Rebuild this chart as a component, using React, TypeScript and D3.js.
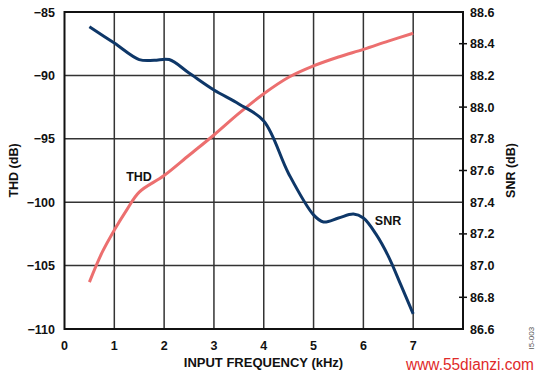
import React from "react";
import * as d3 from "d3";

const freqTicks = [0, 1, 2, 3, 4, 5, 6, 7, 8];
const thdTicks = [-85, -90, -95, -100, -105, -110];
const snrTicks = [88.6, 88.4, 88.2, 88.0, 87.8, 87.6, 87.4, 87.2, 87.0, 86.8, 86.6];

const thdFreq = [0.5, 0.75, 1, 1.25, 1.5, 2, 2.5, 3, 3.5, 4, 4.5, 5, 5.5, 6, 6.5, 7];
const thdValues = [-106.3, -104.0, -102.2, -100.6, -99.2, -97.9, -96.3, -94.7, -93.0, -91.45, -90.15, -89.25, -88.55, -87.95, -87.3, -86.68];

const snrFreq = [0.5, 1, 1.5, 1.8, 2.1, 2.5, 3, 3.5, 4, 4.5, 5, 5.2, 5.5, 5.8, 6, 6.25, 6.5, 6.75, 7];
const snrValues = [88.507, 88.404, 88.3, 88.295, 88.3, 88.215, 88.108, 88.02, 87.912, 87.58, 87.32, 87.275, 87.3, 87.325, 87.3, 87.2, 87.06, 86.88, 86.695];

const W = 540;
const H = 376;
const left = 64.5;
const right = 463;
const top = 12;
const bottom = 329;

const fmtMinus = (v: number) => (v < 0 ? "\u2212" + Math.abs(v) : String(v));

export default function App() {
  const x = d3.scaleLinear().domain([0, 8]).range([left, right]);
  const yL = d3.scaleLinear().domain([-110, -85]).range([bottom, top]);
  const yR = d3.scaleLinear().domain([86.6, 88.6]).range([bottom, top]);

  const thdLine = d3
    .line<number>()
    .x((_, i) => x(thdFreq[i]))
    .y((d) => yL(d))
    .curve(d3.curveCatmullRom.alpha(0.5));
  const snrLine = d3
    .line<number>()
    .x((_, i) => x(snrFreq[i]))
    .y((d) => yR(d))
    .curve(d3.curveCatmullRom.alpha(0.5));

  const font = "'Liberation Sans', Arial, sans-serif";

  return (
    <svg
      width={W}
      height={H}
      style={{ position: "absolute", left: 0, top: 0, background: "#fff" }}
      fontFamily={font}
    >
      <rect x={0} y={0} width={W} height={H} fill="#fff" />
      {/* vertical grid */}
      {freqTicks.slice(1, -1).map((t) => (
        <line key={"vx" + t} x1={x(t)} x2={x(t)} y1={top} y2={bottom} stroke="#333" strokeWidth={1.5} />
      ))}
      {/* horizontal grid */}
      {thdTicks.slice(1, -1).map((t) => (
        <line key={"hy" + t} x1={left} x2={right} y1={yL(t)} y2={yL(t)} stroke="#333" strokeWidth={1.5} />
      ))}
      {/* right minor ticks */}
      {snrTicks
        .filter((_, i) => i % 2 === 1)
        .map((t) => (
          <line key={"rt" + t} x1={right - 4} x2={right + 4} y1={yR(t)} y2={yR(t)} stroke="#111" strokeWidth={1.5} />
        ))}
      {/* frame */}
      <rect x={left} y={top} width={right - left} height={bottom - top} fill="none" stroke="#111" strokeWidth={2} />

      {/* curves */}
      <path d={thdLine(thdValues) || ""} fill="none" stroke="#ec6f6f" strokeWidth={3} strokeLinecap="butt" />
      <path d={snrLine(snrValues) || ""} fill="none" stroke="#0e3768" strokeWidth={3} strokeLinecap="butt" />

      {/* left tick labels */}
      {thdTicks.map((t) => (
        <text key={"lt" + t} x={55} y={yL(t) + 4.5} textAnchor="end" fontSize={12.5} fontWeight="bold" fill="#111">
          {fmtMinus(t)}
        </text>
      ))}
      {/* right tick labels */}
      {snrTicks.map((t) => (
        <text key={"rl" + t} x={470} y={yR(t) + 4.5} textAnchor="start" fontSize={12.5} fontWeight="bold" fill="#111">
          {t.toFixed(1)}
        </text>
      ))}
      {/* bottom tick labels */}
      {freqTicks.slice(0, -1).map((t) => (
        <text key={"bt" + t} x={x(t)} y={350} textAnchor="middle" fontSize={12.5} fontWeight="bold" fill="#111">
          {t}
        </text>
      ))}

      {/* axis titles */}
      <text x={263.5} y={367} textAnchor="middle" fontSize={13} fontWeight="bold" fill="#111">
        INPUT FREQUENCY (kHz)
      </text>
      <text
        transform={`translate(18,${(top + bottom) / 2}) rotate(-90)`}
        textAnchor="middle"
        fontSize={12.5}
        fontWeight="bold"
        fill="#111"
      >
        THD (dB)
      </text>
      <text
        transform={`translate(515,${(top + bottom) / 2}) rotate(-90)`}
        textAnchor="middle"
        fontSize={12.5}
        fontWeight="bold"
        fill="#111"
      >
        SNR (dB)
      </text>

      {/* series labels */}
      <text x={139} y={181} textAnchor="middle" fontSize={12.5} fontWeight="bold" fill="#111">
        THD
      </text>
      <text x={388} y={225} textAnchor="middle" fontSize={12.5} fontWeight="bold" fill="#111">
        SNR
      </text>

      {/* figure code and watermark */}
      <text
        transform="translate(534,338) rotate(-90)"
        textAnchor="middle"
        fontSize={8}
        fill="#555"
      >
        l5-003
      </text>
      <text
        x={406}
        y={370}
        textAnchor="start"
        fontSize={16}
        fill="#e02a2a"
        textLength={128}
        lengthAdjust="spacingAndGlyphs"
      >
        www.55dianzi.com
      </text>
    </svg>
  );
}
